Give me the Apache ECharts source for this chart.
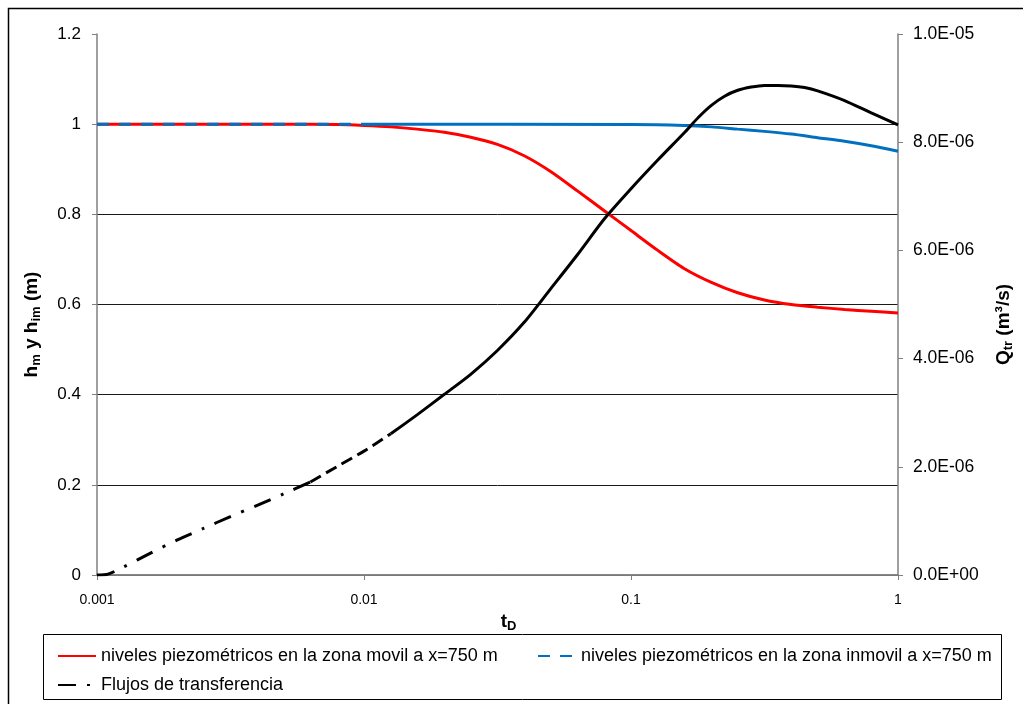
<!DOCTYPE html>
<html>
<head>
    <meta charset="utf-8">
    <title>ECharts</title>
    <script type="text/javascript" src="https://cdn.jsdelivr.net/npm/echarts@6/dist/echarts.min.js"></script>
    <style>
        body { margin: 0; background: #fff; }
    </style>
</head>
<body>
    <div id="main" style="width: 1023px;height:704px;"></div>
    <script type="text/javascript">
    // datos
    var nameMovil = 'niveles piezométricos en la zona movil a x=750 m';
    var nameInmovil = 'niveles piezométricos en la zona inmovil a x=750 m';
    var nameFlujo = 'Flujos de transferencia';

    var tRed = [0.001, 0.005, 0.0079, 0.01, 0.0126, 0.0158, 0.02, 0.0251, 0.0316, 0.0398, 0.05, 0.063, 0.0794,
                0.1, 0.126, 0.158, 0.2, 0.251, 0.316, 0.398, 0.5, 0.631, 0.794, 1.0];
    var hRed = [1.0, 1.0, 0.999, 0.997, 0.994, 0.989, 0.982, 0.971, 0.955, 0.93, 0.895, 0.852, 0.808,
                0.764, 0.72, 0.68, 0.649, 0.626, 0.61, 0.6, 0.594, 0.589, 0.585, 0.581];

    var tBlue = [0.001, 0.01, 0.1, 0.158, 0.2, 0.251, 0.316, 0.398, 0.5, 0.631, 0.794, 1.0];
    var hBlue = [1.0, 1.0, 0.999, 0.997, 0.994, 0.989, 0.984, 0.978, 0.97, 0.962, 0.952, 0.94];

    var tQ = [0.001, 0.0011, 0.00126, 0.00158, 0.002, 0.0025, 0.00316, 0.004, 0.005, 0.0063, 0.0079, 0.01,
              0.0126, 0.0158, 0.02, 0.0251, 0.0316, 0.0398, 0.05, 0.063, 0.0794, 0.1, 0.126, 0.158, 0.179, 0.2,
              0.224, 0.251, 0.282, 0.316, 0.355, 0.398, 0.447, 0.5, 0.631, 0.794, 1.0];
    var Q = [0, 0.017e-6, 0.15e-6, 0.40e-6, 0.65e-6, 0.86e-6, 1.08e-6, 1.29e-6, 1.50e-6, 1.72e-6, 2.00e-6, 2.29e-6,
             2.61e-6, 2.96e-6, 3.34e-6, 3.71e-6, 4.15e-6, 4.67e-6, 5.29e-6, 5.92e-6, 6.58e-6, 7.14e-6, 7.67e-6, 8.17e-6, 8.46e-6, 8.68e-6,
             8.85e-6, 8.96e-6, 9.02e-6, 9.05e-6, 9.05e-6, 9.04e-6, 9.01e-6, 8.95e-6, 8.77e-6, 8.54e-6, 8.32e-6];

    function pares(t, v, a, b) {
        var out = [];
        for (var i = a; i <= b; i++) out.push([t[i], v[i]]);
        return out;
    }

    function fmtE(v) {
        if (v === 0) return '0.0E+00';
        var e = Math.floor(Math.log10(Math.abs(v)) + 1e-9);
        var m = v / Math.pow(10, e);
        var s = e < 0 ? '-' : '+';
        var ea = Math.abs(e);
        return m.toFixed(1) + 'E' + s + (ea < 10 ? '0' : '') + ea;
    }

    var myChart = echarts.init(document.getElementById('main'));
    var F = 'Liberation Sans, Arial, sans-serif';

    var legendBase = {
        selectedMode: false,
        orient: 'horizontal',
        padding: 0,
        itemWidth: 38,
        itemHeight: 14,
        itemStyle: { opacity: 0 },
        textStyle: { fontFamily: F, fontSize: 18, color: '#000' }
    };

    var titulo = {
        b: { fontFamily: F, fontSize: 19, fontWeight: 'bold', color: '#000', lineHeight: 23 },
        s: { fontFamily: F, fontSize: 13, fontWeight: 'bold', color: '#000', verticalAlign: 'bottom', lineHeight: 15 }
    };

    option = {
        animation: false,
        backgroundColor: '#fff',
        grid: { left: 97, right: 125, top: 34, bottom: 129 },
        legend: [
            Object.assign({}, legendBase, { data: [nameMovil], left: 57, top: 647 }),
            Object.assign({}, legendBase, { data: [nameInmovil], left: 537, top: 647 }),
            Object.assign({}, legendBase, { data: [nameFlujo], left: 57, top: 676 })
        ],
        graphic: [
            { type: 'rect', left: 6, top: 6, shape: { width: 1040, height: 720 },
              style: { fill: 'none', stroke: '#000', lineWidth: 1.5 }, silent: true, z: -1 },
            { type: 'rect', left: 41, top: 632, shape: { width: 958, height: 65 },
              style: { fill: 'none', stroke: '#000', lineWidth: 1 }, silent: true, z: -1 }
        ],
        xAxis: [
            {
                type: 'log', logBase: 10, min: 0.001, max: 1,
                name: '{b|t}{s|D}',
                nameLocation: 'middle', nameGap: 27,
                nameTextStyle: { padding: [0, 0, 0, 22], rich: titulo },
                axisLine: { onZero: false, lineStyle: { color: '#808080', width: 1.5 } },
                axisTick: { show: true, length: 5, lineStyle: { color: '#808080' } },
                minorTick: { show: false },
                axisLabel: { fontFamily: F, fontSize: 14, color: '#000', margin: 18 },
                splitLine: { show: false }
            },
            {
                type: 'log', logBase: 10, min: 0.001, max: 1, position: 'top',
                axisLine: { show: true, lineStyle: { color: '#808080', width: 1.5 } },
                axisTick: { show: false }, axisLabel: { show: false }, splitLine: { show: false }
            }
        ],
        yAxis: [
            {
                type: 'value', min: 0, max: 1.2, interval: 0.2,
                name: '{b|h}{s|m}{b| y h}{s|im}{b| (m)}',
                nameLocation: 'middle', nameRotate: 90, nameGap: 54,
                nameTextStyle: { padding: [0, 40, 0, 0], rich: titulo },
                axisLine: { show: true, lineStyle: { color: '#808080', width: 1.5 } },
                axisTick: { show: true, length: 5, lineStyle: { color: '#808080' } },
                axisLabel: { fontFamily: F, fontSize: 17, color: '#000', margin: 16 },
                splitLine: { show: true, showMaxLine: false, lineStyle: { color: '#1a1a1a', width: 1 } }
            },
            {
                type: 'value', min: 0, max: 1e-5, interval: 2e-6, position: 'right',
                name: '{b|Q}{s|tr}{b| (m³/s)}',
                nameLocation: 'middle', nameRotate: 90, nameGap: 94,
                nameTextStyle: { padding: [0, 40, 0, 0], rich: titulo },
                axisLine: { show: true, lineStyle: { color: '#808080', width: 1.5 } },
                axisTick: { show: true, length: 5, lineStyle: { color: '#808080' } },
                axisLabel: { fontFamily: F, fontSize: 17.5, color: '#000', margin: 15, formatter: fmtE },
                splitLine: { show: false }
            }
        ],
        series: [
            {
                name: nameMovil, type: 'line', symbol: 'none', smooth: 0.25,
                lineStyle: { color: '#ff0000', width: 3 }, itemStyle: { color: '#ff0000' },
                data: pares(tRed, hRed, 0, tRed.length - 1)
            },
            {
                name: nameInmovil, type: 'line', symbol: 'none',
                lineStyle: { color: '#0070c0', width: 3, type: [12, 10] }, itemStyle: { color: '#0070c0' },
                data: pares(tBlue, hBlue, 0, 1)
            },
            {
                name: 'inmovil_cont', type: 'line', symbol: 'none', smooth: 0.25,
                lineStyle: { color: '#0070c0', width: 3 },
                data: pares(tBlue, hBlue, 1, tBlue.length - 1)
            },
            {
                name: nameFlujo, type: 'line', symbol: 'none', smooth: 0.25, yAxisIndex: 1,
                lineStyle: { color: '#000', width: 3, type: [18, 11, 3, 11] }, itemStyle: { color: '#000' },
                data: pares(tQ, Q, 0, 9)
            },
            {
                name: 'flujo_guion', type: 'line', symbol: 'none', smooth: 0.25, yAxisIndex: 1,
                lineStyle: { color: '#000', width: 3, type: [12, 6] },
                data: pares(tQ, Q, 9, 12)
            },
            {
                name: 'flujo_cont', type: 'line', symbol: 'none', smooth: 0.25, yAxisIndex: 1,
                lineStyle: { color: '#000', width: 3 },
                data: pares(tQ, Q, 12, tQ.length - 1)
            }
        ]
    };

    myChart.setOption(option);
    </script>
</body>
</html>
